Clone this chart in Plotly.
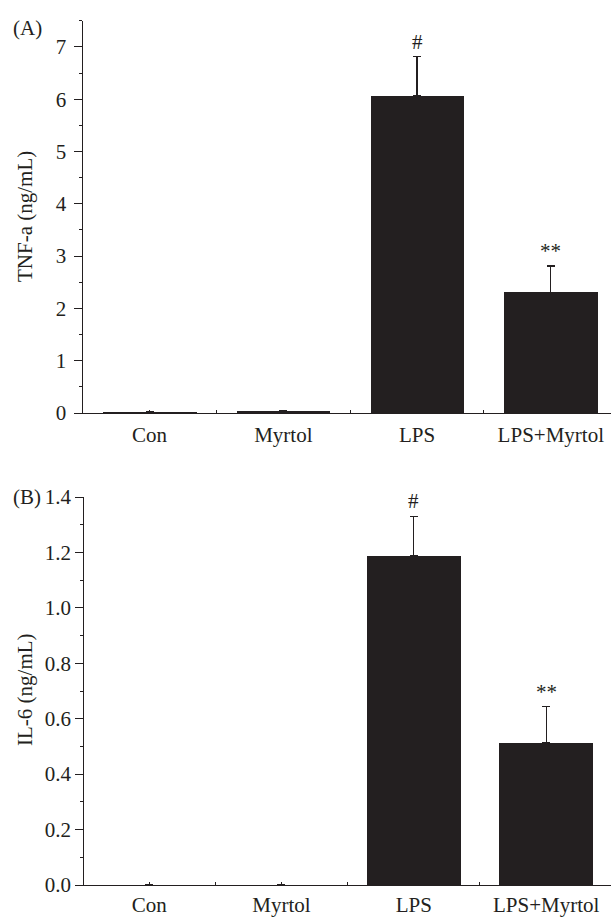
import plotly.graph_objects as go

categories = ["Con", "Myrtol", "LPS", "LPS+Myrtol"]
tnf_mean = [0.03, 0.05, 6.07, 2.31]
tnf_err = [0.0, 0.0, 0.74, 0.50]
tnf_marks = ["", "", "#", "**"]
il6_mean = [0.0, 0.0, 1.188, 0.514]
il6_err = [0.0, 0.0, 0.142, 0.129]
il6_marks = ["", "", "#", "**"]

W, H = 611, 917
INK = "#231f20"
FONT = "Liberation Serif"
FS = 21
xpos = list(range(len(categories)))

fig = go.Figure()

def add_panel(mean, err, xa, ya, width):
    fig.add_trace(go.Bar(
        x=xpos, y=mean, width=width, marker=dict(color=INK, line=dict(width=0)),
        error_y=dict(type="data", symmetric=False, array=err, arrayminus=[0]*len(err),
                     color=INK, thickness=1.3, width=4),
        xaxis=xa, yaxis=ya, showlegend=False, hoverinfo="skip"))

add_panel(tnf_mean, tnf_err, "x", "y", 0.70)
add_panel(il6_mean, il6_err, "x2", "y2", 0.71)

def px_x(p):
    return p / W

def px_y(p):
    return 1 - p / H

xcommon = dict(tickmode="array", tickvals=xpos, ticktext=categories,
               ticks="inside", ticklen=3, tickcolor=INK, tickwidth=1,
               showline=True, linecolor=INK, linewidth=1.3, showgrid=False,
               zeroline=False, tickfont=dict(family=FONT, size=FS, color=INK),
               minor=dict(tickmode="array", tickvals=[0.5, 1.5, 2.5], ticks="inside",
                          ticklen=3, tickcolor=INK, tickwidth=1),
               automargin=False)
ycommon = dict(ticks="outside", ticklen=8, tickcolor=INK, tickwidth=1.3,
               showline=True, linecolor=INK, linewidth=1.3, showgrid=False,
               zeroline=False, tickfont=dict(family=FONT, size=FS, color=INK),
               automargin=False)

fig.update_layout(
    width=W, height=H, margin=dict(l=0, r=0, t=0, b=0),
    paper_bgcolor="white", plot_bgcolor="white",
    xaxis=dict(domain=[px_x(82.7), 1], range=[-0.5, 3.45], anchor="y",
               ticklabelstandoff=3, **xcommon),
    yaxis=dict(domain=[px_y(413), px_y(20.7)], range=[0, 7.5], dtick=1, tick0=0,
               minor=dict(dtick=0.5, ticks="outside", ticklen=3, tickcolor=INK, tickwidth=1),
               anchor="x", ticklabelstandoff=3, **ycommon),
    xaxis2=dict(domain=[px_x(84.3), 1], range=[-0.49, 3.49], anchor="y2",
                ticklabelstandoff=1, **xcommon),
    yaxis2=dict(domain=[px_y(885), px_y(497)], range=[0, 1.4], dtick=0.2, tick0=0,
                tickformat=".1f",
                minor=dict(dtick=0.1, ticks="outside", ticklen=3, tickcolor=INK, tickwidth=1),
                anchor="x2", ticklabelstandoff=0, **ycommon),
    bargap=0,
)

annos = []
for i, (m, e, t) in enumerate(zip(tnf_mean, tnf_err, tnf_marks)):
    if t:
        annos.append(dict(x=i, y=m + e, xref="x", yref="y", text=t, showarrow=False,
                          yanchor="bottom", yshift=1, font=dict(family=FONT, size=FS, color=INK)))
for i, (m, e, t) in enumerate(zip(il6_mean, il6_err, il6_marks)):
    if t:
        annos.append(dict(x=i, y=m + e, xref="x2", yref="y2", text=t, showarrow=False,
                          yanchor="bottom", yshift=1, font=dict(family=FONT, size=FS, color=INK)))

annos.append(dict(x=px_x(25), y=px_y(217), xref="paper", yref="paper", text="TNF-a (ng/mL)",
                  textangle=-90, showarrow=False, xanchor="center", yanchor="middle",
                  font=dict(family=FONT, size=FS, color=INK)))
annos.append(dict(x=px_x(25), y=px_y(690), xref="paper", yref="paper", text="IL-6 (ng/mL)",
                  textangle=-90, showarrow=False, xanchor="center", yanchor="middle",
                  font=dict(family=FONT, size=FS, color=INK)))
annos.append(dict(x=px_x(27), y=px_y(28), xref="paper", yref="paper", text="(A)",
                  showarrow=False, xanchor="center", yanchor="middle",
                  font=dict(family=FONT, size=FS, color=INK)))
annos.append(dict(x=px_x(27), y=px_y(497), xref="paper", yref="paper", text="(B)",
                  showarrow=False, xanchor="center", yanchor="middle",
                  font=dict(family=FONT, size=FS, color=INK)))
fig.update_layout(annotations=annos)

fig.write_html("out.html", config={"displayModeBar": False},
               post_script="document.body.style.margin='0px';")
